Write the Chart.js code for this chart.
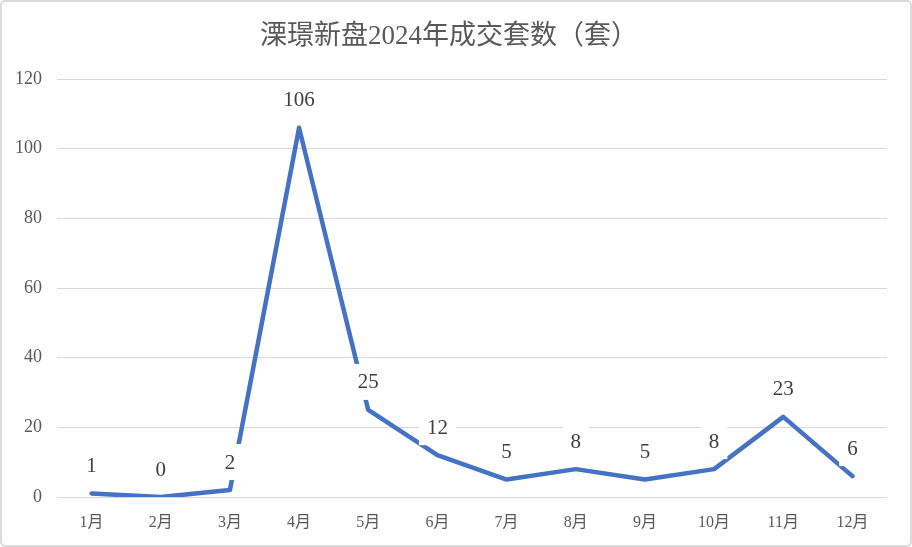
<!DOCTYPE html>
<html><head><meta charset="utf-8">
<script src="https://cdn.jsdelivr.net/npm/chart.js@4/dist/chart.umd.min.js"></script>
<style>html,body{margin:0;padding:0;background:#fff;}#wrap{width:912px;height:547px;}</style>
</head><body><div id="wrap"><canvas id="c" width="912" height="547"></canvas></div>
<script>
const titleText = '溧璟新盘2024年成交套数（套）';
const categories = ['1月','2月','3月','4月','5月','6月','7月','8月','9月','10月','11月','12月'];
const values = [1, 0, 2, 106, 25, 12, 5, 8, 5, 8, 23, 6];
const yTicks = [0, 20, 40, 60, 80, 100, 120];

const FONT = '"Liberation Serif", "Noto Sans CJK SC", serif';

const decor = {
  id: 'decor',
  beforeDraw(chart) {
    const ctx = chart.ctx;
    ctx.save();
    ctx.fillStyle = '#fff';
    ctx.fillRect(0, 0, chart.width, chart.height);
    ctx.restore();
  },
  afterDraw(chart) {
    const ctx = chart.ctx;
    ctx.save();
    ctx.font = '27px ' + FONT;
    ctx.fillStyle = '#595959';
    ctx.textAlign = 'center';
    ctx.textBaseline = 'middle';
    ctx.fillText(titleText, 449, 37);
    ctx.strokeStyle = '#d0d0d0';
    ctx.lineWidth = 1.5;
    ctx.beginPath();
    ctx.roundRect(1, 1, chart.width - 2, chart.height - 2, 4);
    ctx.stroke();
    ctx.restore();
  },
  afterDatasetsDraw(chart) {
    const ctx = chart.ctx;
    const meta = chart.getDatasetMeta(0);
    ctx.save();
    ctx.font = '21px ' + FONT;
    ctx.textAlign = 'center';
    ctx.textBaseline = 'middle';
    meta.data.forEach((pt, i) => {
      const txt = String(values[i]);
      const w = ctx.measureText(txt).width;
      const cx = pt.x, cy = pt.y - 28;
      ctx.fillStyle = '#fff';
      ctx.fillRect(cx - w / 2 - 8, cy - 18, w + 16, 36);
      ctx.fillStyle = '#404040';
      ctx.fillText(txt, cx, cy + 1);
    });
    ctx.restore();
  }
};

new Chart(document.getElementById('c'), {
  type: 'line',
  data: {
    labels: categories,
    datasets: [{
      data: values,
      borderColor: '#4472C4',
      borderWidth: 4.5,
      pointRadius: 0,
      tension: 0,
      fill: false,
      borderCapStyle: 'round',
      borderJoinStyle: 'round'
    }]
  },
  options: {
    responsive: false,
    animation: false,
    layout: { padding: { left: 0, right: 25, top: 79, bottom: 0 } },
    plugins: { legend: { display: false }, title: { display: false }, tooltip: { enabled: false } },
    scales: {
      x: {
        offset: true,
        grid: { display: false, drawTicks: false },
        border: { display: false },
        ticks: { color: '#595959', font: { family: FONT, size: 16 }, padding: 16, maxRotation: 0, autoSkip: false },
        afterFit(s) { s.height = 50; }
      },
      y: {
        min: 0, max: 120,
        afterBuildTicks(s) { s.ticks = yTicks.map(v => ({ value: v })); },
        grid: { color: '#d9d9d9', lineWidth: 1, drawTicks: false },
        border: { display: false },
        ticks: { color: '#595959', font: { family: FONT, size: 18 }, padding: 15 },
        afterFit(s) { s.width = 57; }
      }
    }
  },
  plugins: [decor]
});
</script>
</body></html>
